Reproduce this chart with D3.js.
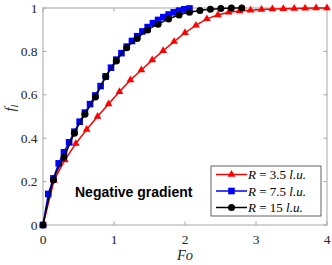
<!DOCTYPE html>
<html><head><meta charset="utf-8">
<script src="https://cdn.jsdelivr.net/npm/d3@7"></script>
<style>body{margin:0;background:#fff}svg{display:block}</style>
</head><body>
<script>
const xTicks = [0, 1, 2, 3, 4];
const yTicks = [0, 0.2, 0.4, 0.6, 0.8, 1];
const yTickLabels = ["0", "0.2", "0.4", "0.6", "0.8", "1"];

const redFo = [0,0.154,0.308,0.462,0.615,0.769,0.923,1.077,1.231,1.385,1.538,1.692,1.846,2.0,2.154,2.308,2.462,2.615,2.769,2.923,3.077,3.231,3.385,3.538,3.692,3.846,4.0];
const redF  = [0,0.205,0.30,0.375,0.44,0.50,0.558,0.614,0.668,0.714,0.76,0.803,0.845,0.886,0.92,0.95,0.968,0.98,0.986,0.99,0.993,0.995,0.997,0.998,0.999,1.0,1.0];

const blueFo = [0,0.074,0.147,0.221,0.295,0.368,0.442,0.516,0.590,0.663,0.737,0.811,0.884,0.958,1.032,1.105,1.179,1.253,1.327,1.400,1.474,1.548,1.621,1.695,1.769,1.842,1.916,1.990,2.063];
const blueF  = [0,0.143,0.215,0.284,0.335,0.381,0.430,0.476,0.518,0.557,0.597,0.640,0.685,0.725,0.762,0.792,0.822,0.848,0.870,0.892,0.912,0.930,0.945,0.958,0.970,0.980,0.988,0.994,0.998];

const blackFo = [0,0.147,0.295,0.442,0.590,0.737,0.884,1.032,1.179,1.326,1.474,1.621,1.768,1.916,2.063,2.21,2.358,2.505,2.653,2.8];
const blackF  = [0,0.207,0.312,0.423,0.51,0.59,0.683,0.756,0.817,0.86,0.899,0.925,0.949,0.968,0.98,0.988,0.994,0.998,1.0,1.0];

const seriesNames = ["3.5", "7.5", "15"];

const W = 332, H = 265;
const x = d3.scaleLinear().domain([0, 4]).range([43, 327]);
const y = d3.scaleLinear().domain([0, 1]).range([225, 8]);

const svg = d3.select("body").append("svg").attr("width", W).attr("height", H);

const axColor = "#a6a6a6";
svg.append("rect").attr("x", x(0)).attr("y", y(1)).attr("width", x(4) - x(0)).attr("height", y(0) - y(1))
  .attr("fill", "none").attr("stroke", axColor).attr("stroke-width", 1);

const tl = 3.5;
xTicks.forEach(t => {
  svg.append("line").attr("x1", x(t)).attr("x2", x(t)).attr("y1", y(0)).attr("y2", y(0) - tl).attr("stroke", axColor);
  svg.append("line").attr("x1", x(t)).attr("x2", x(t)).attr("y1", y(1)).attr("y2", y(1) + tl).attr("stroke", axColor);
  svg.append("text").attr("x", x(t)).attr("y", 243.5).attr("text-anchor", "middle")
    .attr("font-family", "Liberation Serif, Times New Roman, serif").attr("font-size", 13.5).attr("fill", "#262626").text(t);
});
yTicks.forEach((t, i) => {
  svg.append("line").attr("x1", x(0)).attr("x2", x(0) + tl).attr("y1", y(t)).attr("y2", y(t)).attr("stroke", axColor);
  svg.append("line").attr("x1", x(4)).attr("x2", x(4) - tl).attr("y1", y(t)).attr("y2", y(t)).attr("stroke", axColor);
  svg.append("text").attr("x", 37.5).attr("y", y(t) + 4.5).attr("text-anchor", "end")
    .attr("font-family", "Liberation Serif, Times New Roman, serif").attr("font-size", 13.5).attr("fill", "#262626").text(yTickLabels[i]);
});

svg.append("text").attr("x", 185).attr("y", 260).attr("text-anchor", "middle")
  .attr("font-family", "Liberation Serif, Times New Roman, serif").attr("font-style", "italic").attr("font-size", 14.5).attr("fill", "#262626").text("Fo");
const yl = svg.append("text").attr("transform", "translate(15,108) rotate(-90)").attr("text-anchor", "middle")
  .attr("font-family", "Liberation Serif, Times New Roman, serif").attr("font-style", "italic").attr("font-size", 14.5).attr("fill", "#262626");
yl.append("tspan").text("f");
yl.append("tspan").attr("font-size", 10).attr("dy", 3).text("l");

function drawMarker(g, type, cx, cy, color) {
  if (type === "tri") {
    g.append("path").attr("d", d3.symbol().type(d3.symbolTriangle).size(26)()).attr("transform", `translate(${cx},${cy})`).attr("fill", color);
  } else if (type === "sq") {
    g.append("rect").attr("x", cx - 3.3).attr("y", cy - 3.3).attr("width", 6.6).attr("height", 6.6).attr("fill", color);
  } else {
    g.append("circle").attr("cx", cx).attr("cy", cy).attr("r", 3.5).attr("fill", color);
  }
}

const series = [
  {fo: redFo, f: redF, color: "#ff0000", m: "tri", curve: d3.curveLinear},
  {fo: blueFo, f: blueF, color: "#0000ff", m: "sq", curve: d3.curveLinear},
  {fo: blackFo, f: blackF, color: "#000000", m: "circ", curve: d3.curveMonotoneX}
];

series.forEach(s => {
  const pts = s.fo.map((v, i) => [v, s.f[i]]);
  const line = d3.line().x(d => x(d[0])).y(d => y(d[1])).curve(s.curve);
  svg.append("path").attr("d", line(pts)).attr("fill", "none").attr("stroke", s.color).attr("stroke-width", 1.5);
  const g = svg.append("g");
  pts.forEach(p => drawMarker(g, s.m, x(p[0]), y(p[1]), s.color));
});

svg.append("text").attr("x", 75).attr("y", 196.5).attr("font-family", "Liberation Sans, Arial, sans-serif")
  .attr("font-weight", "bold").attr("font-size", 14).attr("fill", "#000").text("Negative gradient");

const lg = svg.append("g");
lg.append("rect").attr("x", 211).attr("y", 166).attr("width", 110).attr("height", 50)
  .attr("fill", "#fff").attr("stroke", "#3a3a3a").attr("stroke-width", 0.8);
const rowY = [174.5, 191, 207.5];
series.forEach((s, i) => {
  lg.append("line").attr("x1", 216).attr("x2", 247).attr("y1", rowY[i]).attr("y2", rowY[i]).attr("stroke", s.color).attr("stroke-width", 1.5);
  drawMarker(lg, s.m, 231.5, rowY[i], s.color);
  const t = lg.append("text").attr("x", 248).attr("y", rowY[i] + 4.5)
    .attr("font-family", "Liberation Serif, Times New Roman, serif").attr("font-size", 13).attr("fill", "#000");
  t.append("tspan").attr("font-style", "italic").text("R");
  t.append("tspan").text(" = " + seriesNames[i] + " ");
  t.append("tspan").attr("font-style", "italic").text("l.u.");
});
</script>
</body></html>
